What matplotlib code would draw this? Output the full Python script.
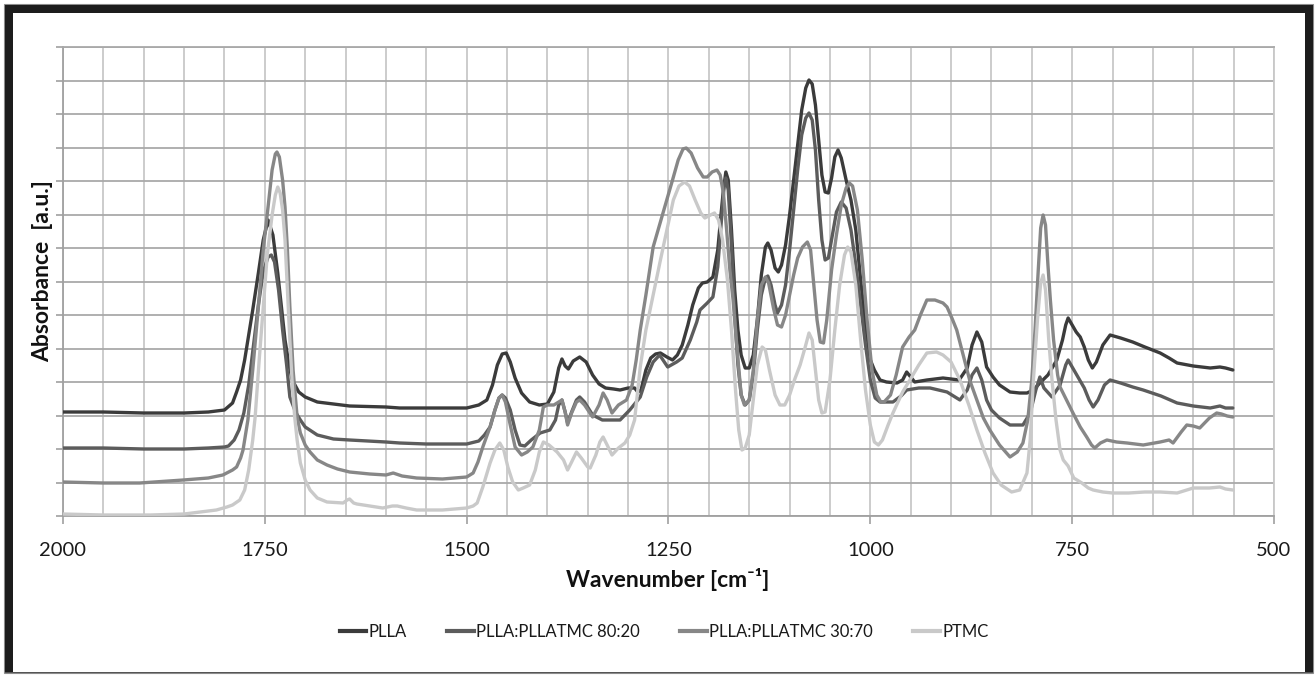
import matplotlib
matplotlib.use('Agg')
import matplotlib.pyplot as plt
from matplotlib.patches import Rectangle
from matplotlib.ticker import MultipleLocator, NullFormatter
from matplotlib.lines import Line2D

# ---------------- data (absorbance in arbitrary units) ----------------
wn_plla = [2000,1950,1900,1850,1820,1800,1790,1785,1780,1775,1771,1765,1758,1752,1746,1740,1734,1729,1725,1720,
           1716,1708,1700,1685,1665,1645,1600,1583,1550,1500,1485,1475,1468,1462,1456,1451,1446,1440,1432,1422,
           1410,1400,1392,1386,1382,1378,1374,1368,1360,1352,1344,1336,1328,1318,1310,1300,1292,1288,1284,1278,
           1272,1266,1260,1252,1245,1239,1233,1226,1220,1213,1208,1202,1195,1189,1185,1182,1179,1176,1172,1168,
           1164,1160,1155,1150,1145,1140,1135,1130,1127,1123,1118,1114,1110,1105,1100,1095,1090,1085,1080,1076,
           1072,1068,1064,1060,1056,1052,1048,1044,1040,1036,1030,1024,1018,1012,1006,1000,995,988,980,967,
           960,955,950,945,930,910,890,880,874,868,862,856,848,840,827,815,806,798,790,780,
           769,762,758,755,750,745,740,735,730,725,720,712,703,690,675,660,641,630,620,600,
           579,567,560,551]
abs_plla = [104,104,103,103,104,106,113,124,136,156,176,206,243,276,296,281,243,206,176,151,
            136,124,119,114,112,110,109,108,108,108,111,116,131,151,162,163,154,138,123,114,
            111,112,124,148,157,150,147,155,159,154,141,132,128,127,126,128,128,124,126,146,
            158,162,163,159,156,161,171,191,211,228,233,234,239,266,301,326,344,336,286,226,
            186,161,148,148,161,196,241,269,273,266,248,244,251,271,301,336,371,406,428,436,
            432,411,376,341,324,323,338,359,366,358,336,316,286,236,191,156,146,136,134,133,
            136,144,139,134,136,138,136,148,171,184,174,149,139,131,124,123,123,126,133,141,
            156,176,191,198,191,184,179,169,156,148,154,171,181,178,174,169,163,158,153,150,
            148,149,148,146]

wn_8020 = [2000,1950,1900,1850,1820,1800,1795,1788,1782,1776,1770,1764,1758,1752,1746,1742,1738,1733,1728,1723,
           1719,1712,1706,1700,1685,1665,1645,1600,1583,1550,1500,1485,1478,1471,1465,1460,1456,1452,1446,1440,
           1434,1428,1420,1409,1397,1390,1386,1382,1378,1375,1370,1364,1360,1354,1344,1332,1322,1310,1298,1285,
           1277,1269,1261,1251,1240,1233,1223,1215,1211,1202,1195,1189,1184,1181,1179,1176,1172,1168,1164,1160,
           1155,1150,1145,1140,1135,1130,1127,1123,1118,1115,1110,1105,1100,1095,1090,1085,1080,1076,1072,1068,
           1064,1060,1056,1052,1047,1042,1036,1030,1024,1018,1012,1006,1000,994,988,980,972,962,955,940,
           926,905,889,880,874,868,862,856,850,840,827,811,802,795,790,785,775,765,758,755,
           750,742,735,729,724,718,710,703,690,675,662,640,620,600,579,567,560,551]
abs_8020 = [68,68,67,67,68,69,70,76,86,103,131,171,211,244,259,261,254,226,186,151,
            119,104,96,89,81,77,76,74,73,72,72,75,81,89,106,118,121,118,106,86,
            71,70,76,83,86,96,111,116,104,93,104,116,119,114,101,96,96,96,106,119,
            139,154,161,149,154,158,176,194,206,213,219,249,301,331,338,326,271,201,151,121,
            111,116,141,186,221,238,240,231,211,203,211,231,266,306,346,381,398,403,396,366,
            316,276,256,258,281,304,314,308,286,251,211,171,136,118,114,114,114,120,126,128,
            128,124,116,126,141,148,136,116,106,98,91,91,103,126,139,128,119,131,151,156,
            149,138,128,116,109,116,131,136,133,129,126,120,113,110,108,110,108,108]

wn_3070 = [2000,1950,1905,1851,1820,1802,1790,1785,1780,1777,1771,1765,1758,1752,1746,1741,1737,1735,1732,1728,
           1725,1722,1719,1715,1710,1706,1700,1694,1685,1673,1660,1645,1620,1600,1591,1580,1562,1530,1500,1492,
           1486,1480,1471,1465,1460,1456,1452,1446,1440,1432,1425,1418,1410,1405,1400,1392,1386,1382,1378,1375,
           1370,1364,1360,1354,1344,1336,1331,1326,1320,1312,1302,1295,1290,1285,1278,1269,1260,1252,1245,1238,
           1232,1228,1222,1214,1207,1202,1196,1190,1186,1182,1178,1174,1170,1165,1160,1156,1150,1145,1140,1135,
           1130,1126,1120,1115,1110,1105,1100,1095,1090,1084,1078,1074,1070,1066,1062,1058,1054,1048,1042,1036,
           1030,1026,1022,1016,1010,1004,998,992,987,983,975,968,960,952,945,938,930,920,910,905,
           899,893,885,877,868,860,852,840,827,818,811,805,800,796,792,789,786,783,780,777,
           773,768,765,757,749,740,732,726,722,715,707,695,682,662,641,630,625,615,608,600,
           592,580,571,565,558,551]
abs_3070 = [34,33,33,36,38,41,46,49,58,66,96,146,209,266,309,346,362,364,359,336,
            309,266,209,146,99,83,71,64,56,51,47,44,42,41,43,40,38,37,39,43,
            54,69,89,106,118,121,114,91,69,61,64,69,86,109,111,111,114,116,104,91,
            103,114,116,111,99,111,123,116,103,111,116,131,156,186,221,269,294,316,336,356,
            367,368,363,348,339,339,344,346,341,323,286,246,216,166,121,111,116,146,196,231,
            239,233,208,191,189,201,221,241,258,269,274,266,231,196,174,173,196,246,281,311,
            328,333,330,306,256,196,146,121,114,114,121,141,169,179,186,201,216,216,213,209,
            198,186,161,136,116,98,86,71,59,64,73,96,136,186,246,288,301,291,251,216,
            176,141,129,116,103,89,79,71,68,73,76,74,73,71,74,76,73,84,91,90,
            88,98,103,102,100,99]

wn_ptmc = [2000,1950,1892,1850,1830,1810,1797,1790,1781,1775,1770,1765,1762,1757,1752,1747,1741,1737,1734,1731,
           1728,1725,1722,1719,1716,1713,1710,1706,1700,1694,1685,1673,1653,1648,1645,1640,1636,1620,1604,1592,
           1586,1575,1562,1530,1500,1492,1487,1480,1471,1465,1459,1454,1449,1443,1436,1430,1422,1415,1410,1405,
           1398,1388,1380,1375,1370,1364,1358,1350,1347,1340,1335,1331,1326,1320,1312,1304,1298,1292,1285,1278,
           1269,1260,1252,1244,1237,1230,1224,1217,1210,1205,1198,1193,1188,1183,1177,1172,1167,1163,1159,1155,
           1150,1145,1140,1134,1130,1125,1118,1112,1106,1100,1094,1087,1081,1076,1072,1068,1064,1060,1056,1050,
           1044,1038,1032,1028,1024,1018,1012,1006,1000,995,990,985,978,972,960,951,940,930,918,910,
           900,889,878,868,858,848,838,825,815,806,802,798,793,789,786,783,779,775,770,765,
           761,755,748,744,738,730,724,712,700,680,660,641,620,600,580,567,560,551]
abs_ptmc = [2,1,1,2,4,6,9,11,16,26,46,76,99,156,209,261,301,321,329,323,
            306,276,226,176,131,99,76,53,36,26,18,14,13,16,17,13,12,10,8,10,
            10,8,6,6,8,10,13,29,53,66,73,66,49,34,26,28,31,46,64,74,
            71,64,56,46,54,64,58,49,48,61,74,79,71,61,68,73,81,96,149,186,
            221,256,286,316,330,334,330,316,303,298,301,303,296,276,236,186,126,86,66,68,
            81,116,151,169,166,146,121,111,111,121,136,151,168,183,176,146,116,103,104,136,
            186,231,261,269,264,231,176,126,91,74,71,76,91,103,124,136,151,163,164,161,
            154,136,111,86,63,43,31,24,26,43,76,136,196,233,241,226,176,136,96,66,
            56,50,38,36,33,28,26,24,23,23,24,24,23,28,28,29,27,26]

series = [
    ("PLLA", wn_plla, abs_plla, "#3b3b3b"),
    ("PLLA:PLLATMC 80:20", wn_8020, abs_8020, "#5c5c5c"),
    ("PLLA:PLLATMC 30:70", wn_3070, abs_3070, "#878787"),
    ("PTMC", wn_ptmc, abs_ptmc, "#c9c9c9"),
]

x_ticks = [2000, 1750, 1500, 1250, 1000, 750, 500]

# ---------------- figure ----------------
W, H = 1315, 675
fig = plt.figure(figsize=(W / 100, H / 100), dpi=100)
fig.patch.set_facecolor("white")

FONT = ["Lato", "DejaVu Sans"]

ax = fig.add_axes([63 / W, 1 - 516 / H, (1274 - 63) / W, (516 - 47) / H])
ax.set_xlim(2000, 500)
ax.set_ylim(0, 469)

for name, wx, wy, col in series:
    ax.plot(wx, wy, color=col, lw=2.4, label=name, solid_joinstyle="round",
            solid_capstyle="round", zorder=3)

ax.set_xticks(x_ticks)
ax.set_xticklabels([str(t) for t in x_ticks])
ax.xaxis.set_minor_locator(MultipleLocator(50))
ax.yaxis.set_major_locator(MultipleLocator(33.5))
ax.yaxis.set_major_formatter(NullFormatter())

ax.set_axisbelow(True)
ax.grid(True, axis="x", which="both", color="#c8c8c8", lw=1.3)
ax.grid(True, axis="y", which="major", color="#a9a9a9", lw=1.3)

for s in ["left", "bottom"]:
    ax.spines[s].set_color("#a0a0a0")
    ax.spines[s].set_linewidth(1.3)
ax.spines["top"].set_color("#a9a9a9")
ax.spines["top"].set_linewidth(1.3)
ax.spines["right"].set_color("#c8c8c8")
ax.spines["right"].set_linewidth(1.3)

ax.tick_params(axis="x", which="major", direction="out", length=6, width=1.2,
               color="#a0a0a0", pad=13, labelsize=14.5, labelcolor="#1a1a1a")
ax.tick_params(axis="x", which="minor", length=0)
ax.tick_params(axis="y", which="major", direction="out", length=5, width=1.2,
               color="#a0a0a0")
for lab in ax.get_xticklabels():
    lab.set_family(FONT)

ax.set_xlabel("Wavenumber [cm\u207b\u00b9]", fontsize=16.5, fontweight="bold",
              family=FONT, color="#111111")
ax.xaxis.set_label_coords(0.4996, -0.11)
ax.set_ylabel("Absorbance  [a.u.]", fontsize=16.5, fontweight="bold",
              family=FONT, color="#111111")
ax.yaxis.set_label_coords(-0.008, 0.522)

# legend
handles = [Line2D([0], [0], color=c, lw=3) for _, _, _, c in series]
labels = [n for n, _, _, _ in series]
fig.legend(handles, labels, loc="center", bbox_to_anchor=(664 / W, 1 - 632 / H),
           ncol=4, frameon=False, prop={"family": FONT, "size": 12},
           handlelength=1.6, handletextpad=0.15, columnspacing=2.4,
           labelcolor="#1a1a1a")

# outer frame
def rect(x, y, w, h, **kw):
    fig.add_artist(Rectangle((x / W, 1 - (y + h) / H), w / W, h / H,
                             transform=fig.transFigure, **kw))

rect(4, 4, 1309, 669, fill=False, edgecolor="#8c8c8c", lw=0.8)
rect(5, 5, 8, 668, facecolor="#1c1c1c", edgecolor="none")
rect(5, 5, 1308, 8, facecolor="#1c1c1c", edgecolor="none")
rect(1305, 5, 8, 668, facecolor="#1c1c1c", edgecolor="none")
rect(5, 672, 1308, 1, facecolor="#555555", edgecolor="none")

fig.savefig("out.png", dpi=100, facecolor="white")
